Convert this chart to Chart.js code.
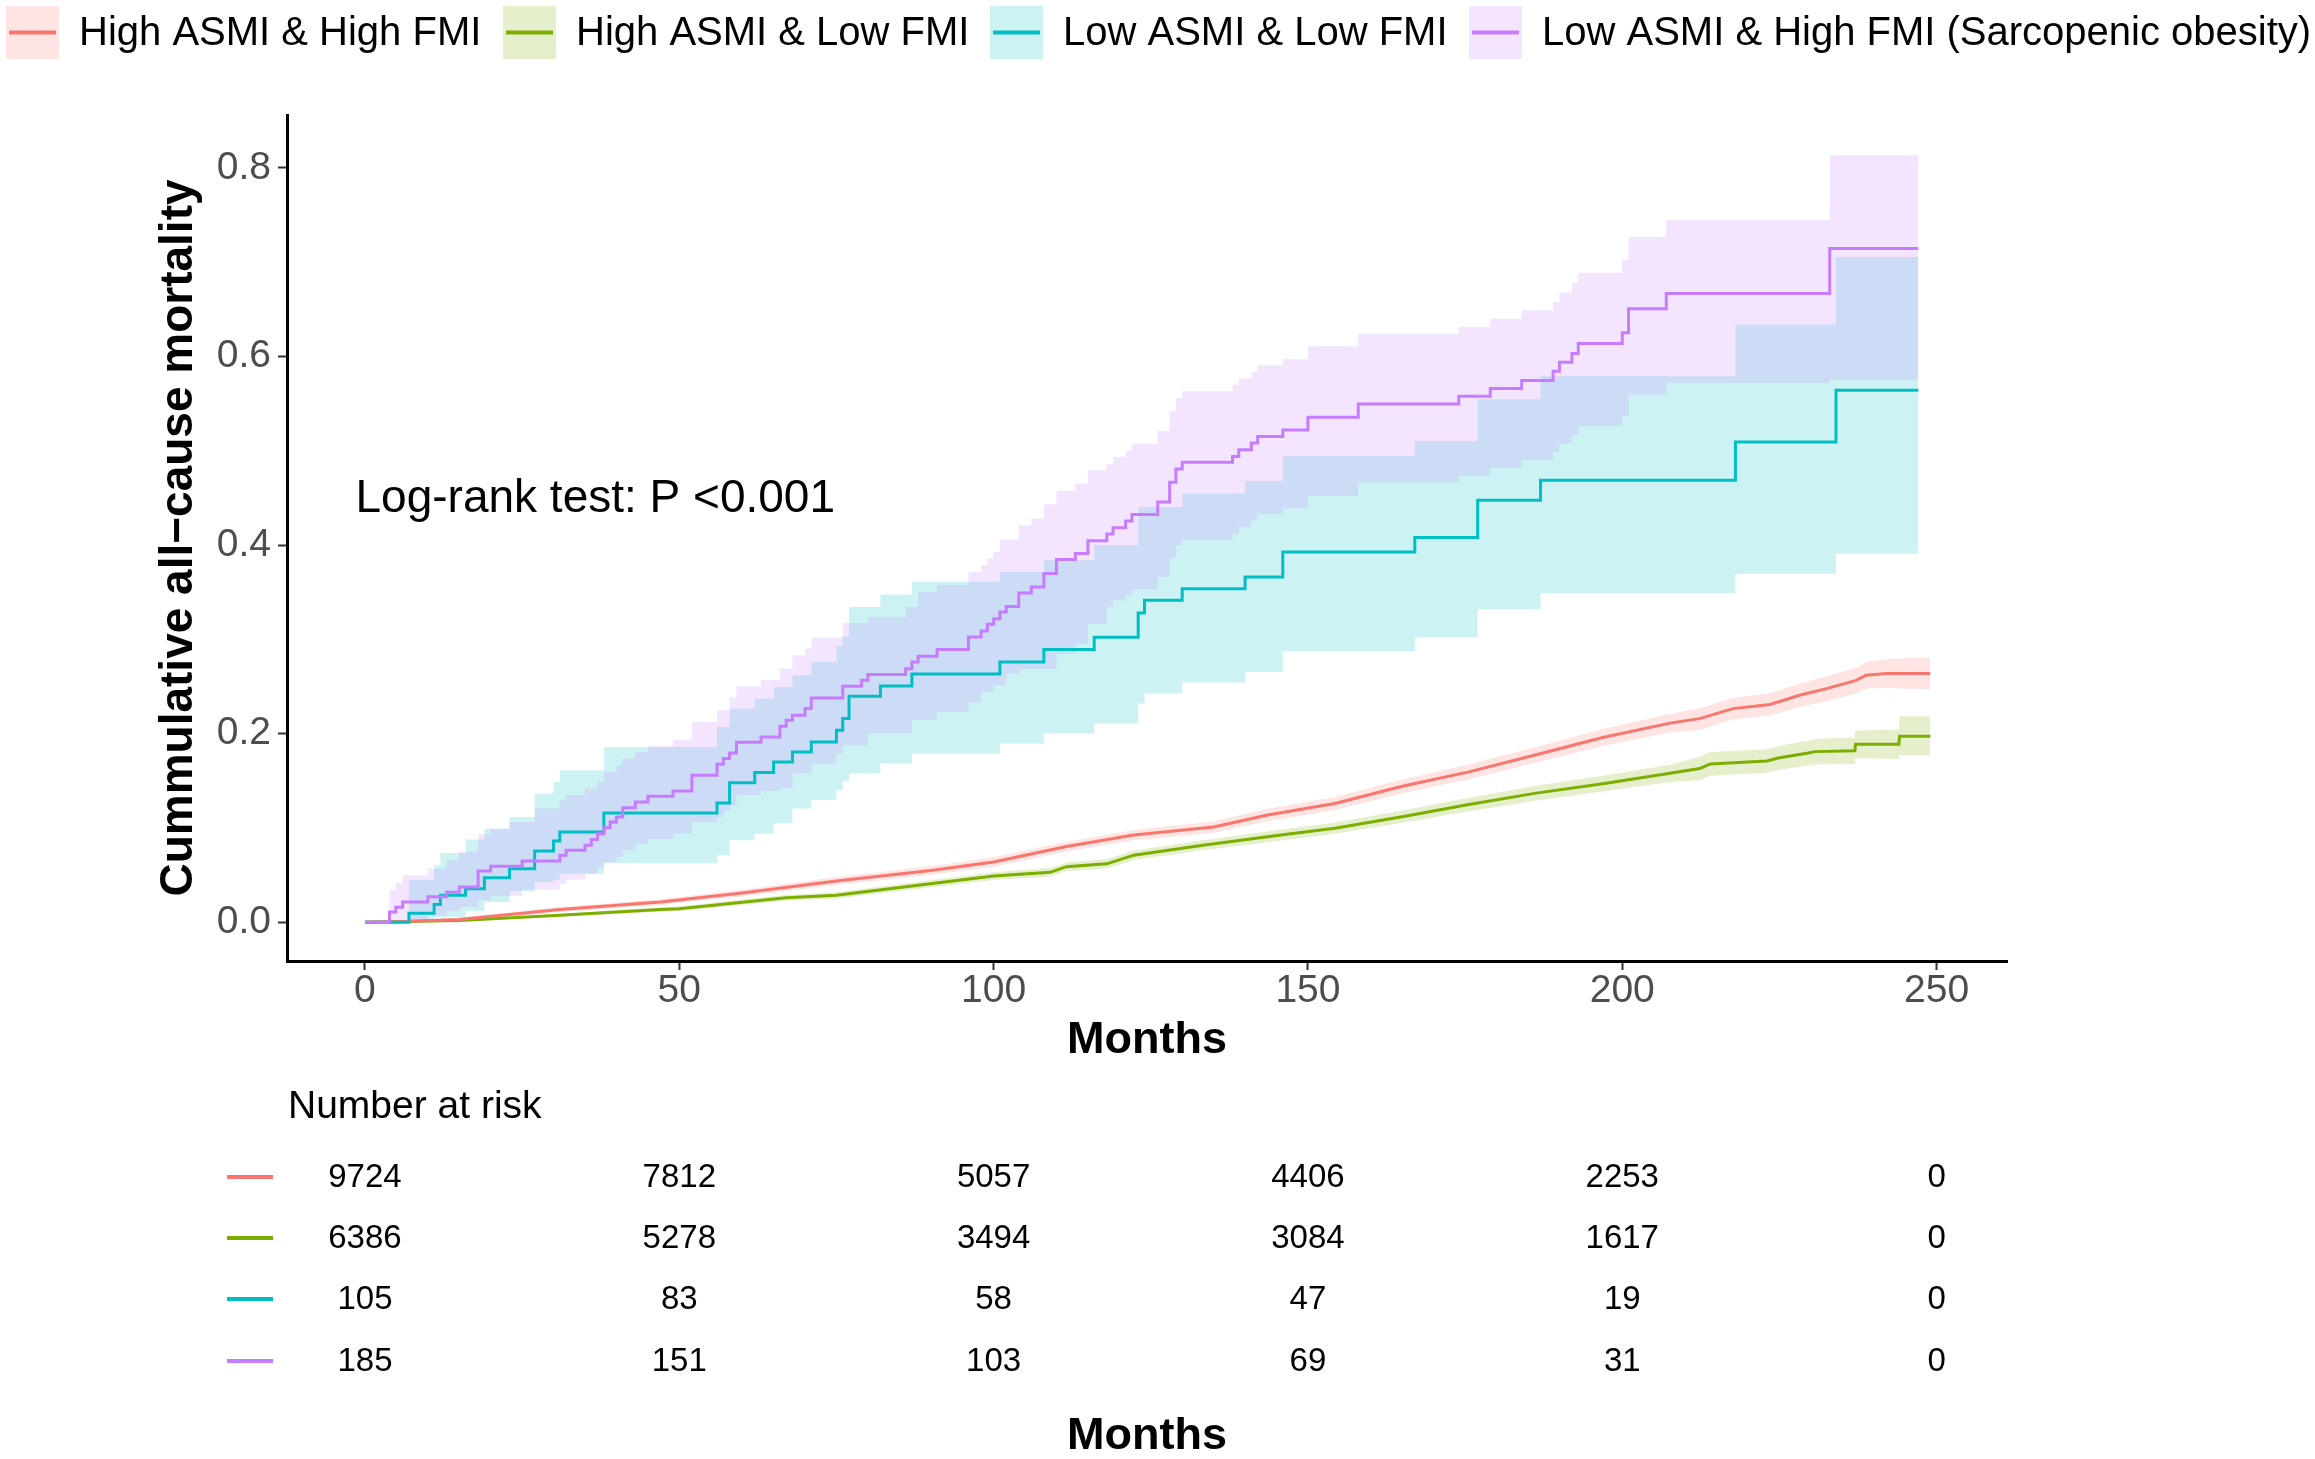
<!DOCTYPE html>
<html><head><meta charset="utf-8">
<script src="https://cdn.jsdelivr.net/npm/chart.js@4.4.0/dist/chart.umd.min.js"></script>
<style>html,body{margin:0;padding:0;background:#fff;overflow:hidden}canvas{display:block}</style>
</head><body>
<canvas id="c" width="2315" height="1459" style="width:2315px;height:1459px"></canvas>
<script>
// ---------- categories / labels ----------
const groupLabels = ['High ASMI & High FMI', 'High ASMI & Low FMI', 'Low ASMI & Low FMI', 'Low ASMI & High FMI (Sarcopenic obesity)'];
const groupColors = ['#F8766D', '#7CAE00', '#00BFC4', '#C77CFF'];
const fillColors = ['rgba(248,118,109,0.2)', 'rgba(124,174,0,0.2)', 'rgba(0,191,196,0.2)', 'rgba(199,124,255,0.2)'];
const xTickValues = [0, 50, 100, 150, 200, 250];
const yTickValues = [0, 0.2, 0.4, 0.6, 0.8];
const pvalText = 'Log-rank test: P <0.001';

// ---------- High ASMI & High FMI (red) ----------
const redT = [0,5,15,31,47,60,75,90,100,111.6,122.3,135,143.6,154.3,165,175.6,186.3,196.9,207.6,212.3,217.6,223.5,228.2,232.5,237.2,238.8,242,249];
const redV = [0,0.0005,0.003,0.0135,0.0215,0.031,0.0438,0.055,0.064,0.0803,0.0925,0.101,0.1138,0.126,0.1442,0.1595,0.1777,0.196,0.2112,0.216,0.2266,0.231,0.2407,0.2478,0.2566,0.262,0.2637,0.2637];
const redUp = [0,0.001,0.005,0.016,0.0245,0.0345,0.048,0.0595,0.069,0.0855,0.098,0.107,0.1203,0.1328,0.1515,0.1673,0.186,0.205,0.221,0.227,0.238,0.243,0.253,0.261,0.270,0.276,0.279,0.281];
const redLo = [0,0,0.001,0.011,0.0185,0.0275,0.0396,0.0505,0.059,0.0751,0.087,0.095,0.1073,0.1192,0.1369,0.1517,0.1694,0.187,0.2014,0.204,0.2152,0.219,0.2284,0.2346,0.2426,0.248,0.2484,0.2468];

// ---------- High ASMI & Low FMI (green) ----------
const greenT = [0,15,31,47,50,67,75,100,109,111.6,118,122.3,133,145.7,154.3,165,175.6,186.3,196.9,207.6,212.3,214,223,224.8,229.6,230.7,237,237.1,244,244.1,249];
const greenV = [0,0.002,0.0074,0.0135,0.0145,0.026,0.0286,0.049,0.053,0.059,0.062,0.0712,0.0815,0.0925,0.0998,0.112,0.125,0.137,0.147,0.158,0.163,0.168,0.171,0.1743,0.1796,0.181,0.182,0.1888,0.1888,0.1972,0.1972];
const greenUp = [0,0.003,0.009,0.0158,0.017,0.029,0.032,0.053,0.0575,0.0635,0.0668,0.0762,0.0868,0.0982,0.1058,0.1185,0.1322,0.1447,0.1553,0.1672,0.1755,0.1805,0.1835,0.187,0.1928,0.1945,0.196,0.2035,0.2045,0.2185,0.2185];
const greenLo = [0,0.001,0.0058,0.0112,0.012,0.023,0.0252,0.045,0.0485,0.0545,0.0572,0.0662,0.0762,0.0868,0.0938,0.1055,0.1178,0.1293,0.1387,0.1488,0.1506,0.1555,0.1585,0.1616,0.1664,0.1675,0.168,0.174,0.1731,0.177,0.177];

// ---------- Low ASMI & Low FMI (cyan), step function ----------
const cyanT = [0,7,11,12,16,19,23,27,30,31,38,56,58,62,65,68,71,75,76,77,82,87,101,108,116,123,124,130,140,146,167,177,187,218,234,247.1];
const cyanV = [0,0.0095,0.019,0.0286,0.0357,0.0474,0.0569,0.0756,0.0862,0.0958,0.116,0.1265,0.148,0.1589,0.17,0.1806,0.1912,0.2036,0.216,0.2397,0.2506,0.2632,0.276,0.2892,0.3022,0.328,0.3415,0.3538,0.3662,0.3927,0.408,0.4475,0.4687,0.5094,0.5642,0.5642];
const cyanUpT = [0,7,11,12,16,19,23,27,30,31,38,56,58,62,65,68,71,75,76,77,82,87,101,108,116,123,130,140,146,167,177,187,218,234,247.1];
const cyanUpV = [0,0.045,0.0604,0.0735,0.0877,0.0993,0.1117,0.1365,0.1488,0.1612,0.1859,0.207,0.2266,0.2372,0.2496,0.262,0.276,0.293,0.3033,0.3344,0.3475,0.361,0.3715,0.384,0.3998,0.4404,0.4546,0.468,0.4942,0.5104,0.5546,0.579,0.6338,0.7055,0.7055];
const cyanLoT = [0,11,16,19,23,27,30,31,38,56,58,62,65,68,71,75,76,77,82,87,101,108,116,123,124,130,140,146,167,177,187,218,234,247.1];
const cyanLoV = [0,0.0056,0.012,0.0216,0.0332,0.0428,0.0452,0.0516,0.0629,0.071,0.087,0.094,0.105,0.1206,0.1301,0.14,0.15,0.1577,0.1683,0.1789,0.1895,0.2001,0.2107,0.2319,0.2425,0.2542,0.2654,0.2877,0.3019,0.3319,0.3492,0.3697,0.391,0.391];

// ---------- Low ASMI & High FMI (purple), step function ----------
const purpleT = [0,3.9,4.9,6,10,13,15,18,20,25,31,32,35,36,37,38,39,40,41,43,45,49,52,56,57,58,59.1,63,66,67,68,70,71,76,79,80,86,87,88,91,96,98,99,100,101,102,104,106,108,110,113,115,118,119,121,122,126.1,128,129,130,138,139,141,142,146,150,158,174,179,184,189,190,192,193,200,201,207,233,247.1];
const purpleV = [0,0.011,0.016,0.0216,0.027,0.032,0.0375,0.0544,0.0594,0.065,0.071,0.0764,0.0817,0.0877,0.094,0.1004,0.1064,0.1117,0.1216,0.1276,0.1336,0.1393,0.1559,0.1675,0.1736,0.1796,0.191,0.1965,0.2078,0.2142,0.2195,0.2266,0.2379,0.2503,0.2566,0.2627,0.269,0.276,0.282,0.2892,0.3026,0.3089,0.316,0.322,0.329,0.335,0.3492,0.3556,0.3698,0.3846,0.391,0.4047,0.4117,0.4185,0.4256,0.4323,0.4457,0.4666,0.4807,0.4878,0.494,0.5012,0.5083,0.515,0.522,0.5355,0.5496,0.5578,0.566,0.5745,0.5843,0.5938,0.603,0.6136,0.625,0.6507,0.6667,0.7144,0.7144];
const purpleUpT = [0,3.9,4.9,6,10,13,15,18,20,23,27,31,32,35,37,38,40,41,43,45,49,52,56,58,59.1,63,66,68,70,71,76,80,86,88,91,96,98,99,100,101,104,106,108,110,113,115,118,119,121,122,126.1,128,129,130,138,139,141,142,146,150,158,174,179,184,189,190,192,193,200,201,207,233,247.1];
const purpleUpV = [0,0.034,0.0417,0.0498,0.0569,0.0657,0.075,0.0933,0.0993,0.1064,0.1206,0.1294,0.1347,0.1418,0.1488,0.1594,0.1665,0.1736,0.1806,0.1866,0.1937,0.2124,0.2248,0.2383,0.2503,0.2573,0.269,0.2831,0.2902,0.3019,0.3174,0.3238,0.3344,0.3503,0.3574,0.3715,0.3786,0.3857,0.3927,0.4058,0.421,0.4281,0.4433,0.4574,0.4652,0.4793,0.486,0.4934,0.5,0.5076,0.521,0.542,0.556,0.563,0.570,0.5766,0.5836,0.5907,0.597,0.6108,0.6243,0.6313,0.640,0.649,0.6578,0.6678,0.678,0.6886,0.702,0.7267,0.7444,0.8134,0.8134];
const purpleLoT = [0,10,13,15,18,20,25,31,32,35,37,38,40,41,43,45,49,52,56,57,58,59.1,63,66,68,71,75,76,80,87,91,96,98,100,102,104,110,113,115,118,119,121,122,126.1,128,129,130,138,139,141,142,146,150,158,174,179,184,189,190,192,193,200,201,207,233,247.1];
const purpleLoV = [0,0.0074,0.012,0.0162,0.0233,0.0276,0.0347,0.041,0.0452,0.0516,0.058,0.064,0.0693,0.0764,0.0834,0.0887,0.094,0.1064,0.1117,0.118,0.124,0.1347,0.1395,0.1418,0.1577,0.1683,0.1789,0.1877,0.2001,0.2142,0.223,0.2336,0.2442,0.2513,0.2637,0.269,0.2849,0.2955,0.316,0.334,0.3415,0.3468,0.3528,0.3662,0.3867,0.3998,0.4058,0.4122,0.4192,0.4263,0.4327,0.4387,0.4521,0.4663,0.4733,0.482,0.49,0.4988,0.5076,0.5164,0.526,0.5366,0.5596,0.572,0.5755,0.5755];

// ---------- Number at risk ----------
const riskTimes = [0, 50, 100, 150, 200, 250];
const riskRed = [9724, 7812, 5057, 4406, 2253, 0];
const riskGreen = [6386, 5278, 3494, 3084, 1617, 0];
const riskCyan = [105, 83, 58, 47, 19, 0];
const riskPurple = [185, 151, 103, 69, 31, 0];

// ---------- build ----------
const FONT = '"Liberation Sans", Arial, Helvetica, sans-serif';
const pts = (t, v) => t.map((x, i) => ({x: x, y: v[i]}));
const band = (t, v, fill, col, stepped) => ({data: pts(t, v), borderColor: 'rgba(0,0,0,0)', borderWidth: 1, pointRadius: 0, fill: fill, backgroundColor: col, stepped: stepped, tension: 0});
const line = (t, v, col, stepped) => ({data: pts(t, v), borderColor: col, borderWidth: 3, pointRadius: 0, fill: false, stepped: stepped, tension: 0});

const datasets = [
  band(purpleLoT, purpleLoV, false, fillColors[3], 'before'),
  band(purpleUpT, purpleUpV, '-1', fillColors[3], 'before'),
  band(cyanLoT, cyanLoV, false, fillColors[2], 'before'),
  band(cyanUpT, cyanUpV, '-1', fillColors[2], 'before'),
  band(redT, redLo, false, fillColors[0], false),
  band(redT, redUp, '-1', fillColors[0], false),
  band(greenT, greenLo, false, fillColors[1], false),
  band(greenT, greenUp, '-1', fillColors[1], false),
  line(purpleT, purpleV, groupColors[3], 'before'),
  line(cyanT, cyanV, groupColors[2], 'before'),
  line(redT, redV, groupColors[0], false),
  line(greenT, greenV, groupColors[1], false)
];

const legendBoxX = [6, 503, 990, 1469];

const decor = {
  id: 'decor',
  afterDraw(chart) {
    const ctx = chart.ctx, xs = chart.scales.x, ys = chart.scales.y, ca = chart.chartArea;
    ctx.save();
    // legend
    ctx.font = '40px ' + FONT;
    ctx.textBaseline = 'middle'; ctx.textAlign = 'left';
    const ly = 6, box = 53;
    groupLabels.forEach((lab, i) => {
      const lx = legendBoxX[i];
      ctx.fillStyle = fillColors[i]; ctx.fillRect(lx, ly, box, box);
      ctx.strokeStyle = groupColors[i]; ctx.lineWidth = 4;
      ctx.beginPath(); ctx.moveTo(lx + 3, ly + box / 2); ctx.lineTo(lx + box - 3, ly + box / 2); ctx.stroke();
      ctx.fillStyle = '#000'; ctx.fillText(lab, lx + box + 20, ly + box / 2 + 1);
    });
    // p-value
    ctx.font = '46px ' + FONT;
    ctx.fillStyle = '#000';
    ctx.fillText(pvalText, xs.getPixelForValue(-1.5), ys.getPixelForValue(0.449));
    // risk table
    ctx.font = '39px ' + FONT;
    ctx.fillText('Number at risk', ca.left + 1, 1107);
    const rows = [riskRed, riskGreen, riskCyan, riskPurple];
    const rowY = [1177, 1238, 1299, 1361];
    ctx.font = '33px ' + FONT;
    rows.forEach((r, i) => {
      ctx.strokeStyle = groupColors[i]; ctx.lineWidth = 4;
      ctx.beginPath(); ctx.moveTo(227, rowY[i]); ctx.lineTo(273, rowY[i]); ctx.stroke();
      ctx.fillStyle = '#000'; ctx.textAlign = 'center';
      r.forEach((n, j) => ctx.fillText(String(n), xs.getPixelForValue(riskTimes[j]), rowY[i] + 1));
    });
    ctx.font = 'bold 45px ' + FONT;
    ctx.textAlign = 'center';
    ctx.fillText('Months', (ca.left + ca.right) / 2, 1437);
    ctx.restore();
  }
};

new Chart(document.getElementById('c'), {
  type: 'line',
  data: {datasets: datasets},
  plugins: [decor],
  options: {
    responsive: false, animation: false, devicePixelRatio: 1, events: [],
    layout: {padding: {left: 140, top: 115, right: 308, bottom: 388}},
    plugins: {legend: {display: false}, tooltip: {enabled: false}, filler: {drawTime: 'beforeDatasetsDraw'}},
    elements: {point: {radius: 0}},
    scales: {
      x: {
        type: 'linear', min: -12.4, max: 261.2,
        afterBuildTicks: s => { s.ticks = xTickValues.map(v => ({value: v})); },
        afterFit: s => { s.height = 110; },
        ticks: {autoSkip: false, maxRotation: 0, color: '#4D4D4D', font: {family: FONT, size: 39, lineHeight: 1}, padding: 2, callback: v => String(v)},
        grid: {display: true, drawOnChartArea: false, drawTicks: true, tickLength: 9, tickWidth: 2, tickColor: '#333'},
        border: {display: true, color: '#000', width: 3},
        title: {display: true, text: 'Months', color: '#000', font: {family: FONT, size: 45, weight: 'bold', lineHeight: 1.2}, padding: {top: 0, bottom: 3}}
      },
      y: {
        type: 'linear', min: -0.041, max: 0.856,
        afterBuildTicks: s => { s.ticks = yTickValues.map(v => ({value: v})); },
        afterFit: s => { s.width = 147; },
        ticks: {autoSkip: false, color: '#4D4D4D', font: {family: FONT, size: 39, lineHeight: 1}, padding: 7, callback: v => Number(v).toFixed(1)},
        grid: {display: true, drawOnChartArea: false, drawTicks: true, tickLength: 9, tickWidth: 2, tickColor: '#333'},
        border: {display: true, color: '#000', width: 3},
        title: {display: true, text: 'Cummulative all\u2212cause mortality', color: '#000', font: {family: FONT, size: 46, weight: 'bold', lineHeight: 1.2}, padding: {top: 12, bottom: 0}}
      }
    }
  }
});
</script>
</body></html>
